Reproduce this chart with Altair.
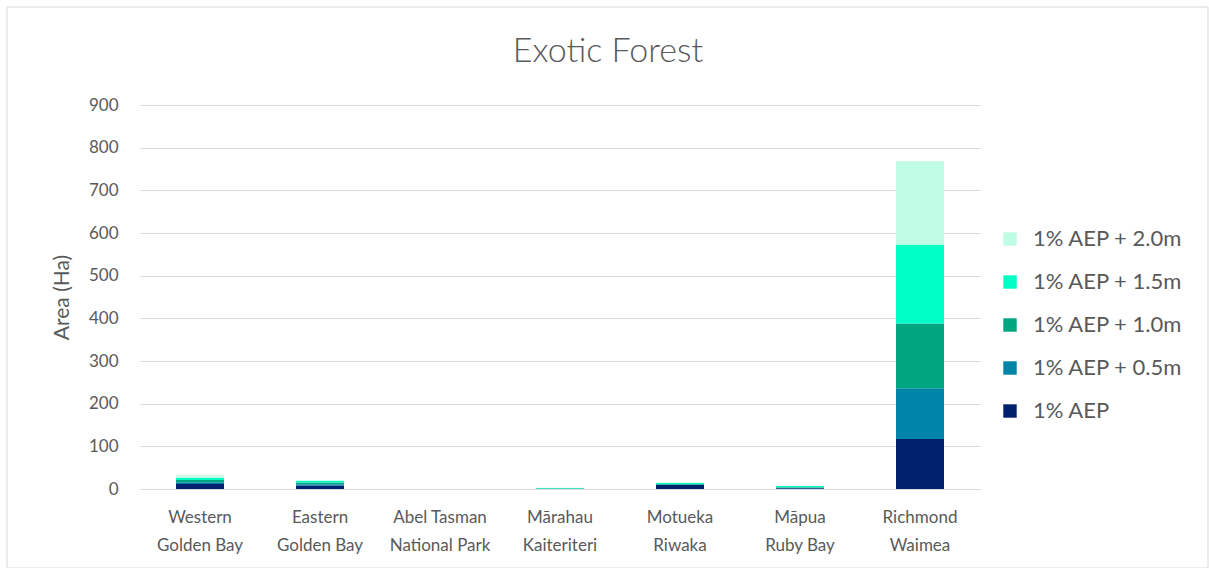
import altair as alt
import pandas as pd

regions = ["Western|Golden Bay", "Eastern|Golden Bay", "Abel Tasman|National Park",
           "Mārahau|Kaiteriteri", "Motueka|Riwaka", "Māpua|Ruby Bay", "Richmond|Waimea"]
scenarios = ["1% AEP", "1% AEP + 0.5m", "1% AEP + 1.0m", "1% AEP + 1.5m", "1% AEP + 2.0m"]
colors = ["#00226E", "#0084A8", "#00A680", "#00FFC6", "#BFFCE4"]

aep      = [12, 8, 0, 0.3, 9.5, 2, 117]
aep_05   = [4, 3, 0, 0.3, 1, 1, 119]
aep_10   = [5, 4, 0, 0.5, 1, 1, 152]
aep_15   = [5.5, 4, 0, 1, 2.5, 3, 185]
aep_20   = [5.5, 1.5, 0, 1, 1.5, 1, 195]
series = [aep, aep_05, aep_10, aep_15, aep_20]

rows = []
for si, (name, vals) in enumerate(zip(scenarios, series)):
    for r, v in zip(regions, vals):
        rows.append({"region": r, "scenario": name, "value": v, "order": si})
df = pd.DataFrame(rows)

FONT = "Lato"
GREY = "#595959"

bars = alt.Chart(df).mark_bar().encode(
    x=alt.X("region:N", sort=regions,
            scale=alt.Scale(paddingInner=0.6, paddingOuter=0.3),
            axis=alt.Axis(title=None, labelAngle=0, labelExpr="split(datum.label, '|')",
                          labelFontSize=17, labelColor=GREY, labelFont=FONT,
                          ticks=False, domainColor="#d9d9d9", labelPadding=20,
                          labelLineHeight=28)),
    y=alt.Y("value:Q", stack="zero",
            scale=alt.Scale(domain=[0, 900]),
            axis=alt.Axis(title="Area (Ha)", values=list(range(0, 901, 100)),
                          titleFontSize=21, titleFontWeight="normal", titleColor=GREY,
                          titleFont=FONT, titlePadding=16,
                          labelFontSize=17, labelColor=GREY, labelFont=FONT,
                          ticks=False, domain=False, gridColor="#d9d9d9", labelPadding=22)),
    color=alt.Color("scenario:N",
                    scale=alt.Scale(domain=scenarios[::-1], range=colors[::-1]),
                    legend=alt.Legend(title=None, orient="none", legendX=859, legendY=123,
                                      symbolType="square", symbolSize=180,
                                      symbolStrokeWidth=0, labelFontSize=22,
                                      labelColor=GREY, labelFont=FONT, rowPadding=21,
                                      labelOffset=12)),
    order=alt.Order("order:Q", sort="ascending"),
)

border = alt.Chart(pd.DataFrame({"a": [0]})).mark_rect(
    fill=None, stroke="#d9d9d9", strokeWidth=1
).encode(x=alt.value(-133), x2=alt.value(1068), y=alt.value(-98), y2=alt.value(463))

chart = alt.layer(border, bars).properties(
    width=840, height=384,
    title=alt.TitleParams("Exotic Forest", fontSize=34, font=FONT, fontWeight=300,
                          color=GREY, dx=48, offset=-62, frame="group"),
    autosize=alt.AutoSizeParams(type="none"),
    padding={"left": 140, "top": 105, "right": 229, "bottom": 79},
    background="white",
).configure_view(strokeWidth=0)

chart.save("out.html", embed_options={"renderer": "svg", "actions": False})
